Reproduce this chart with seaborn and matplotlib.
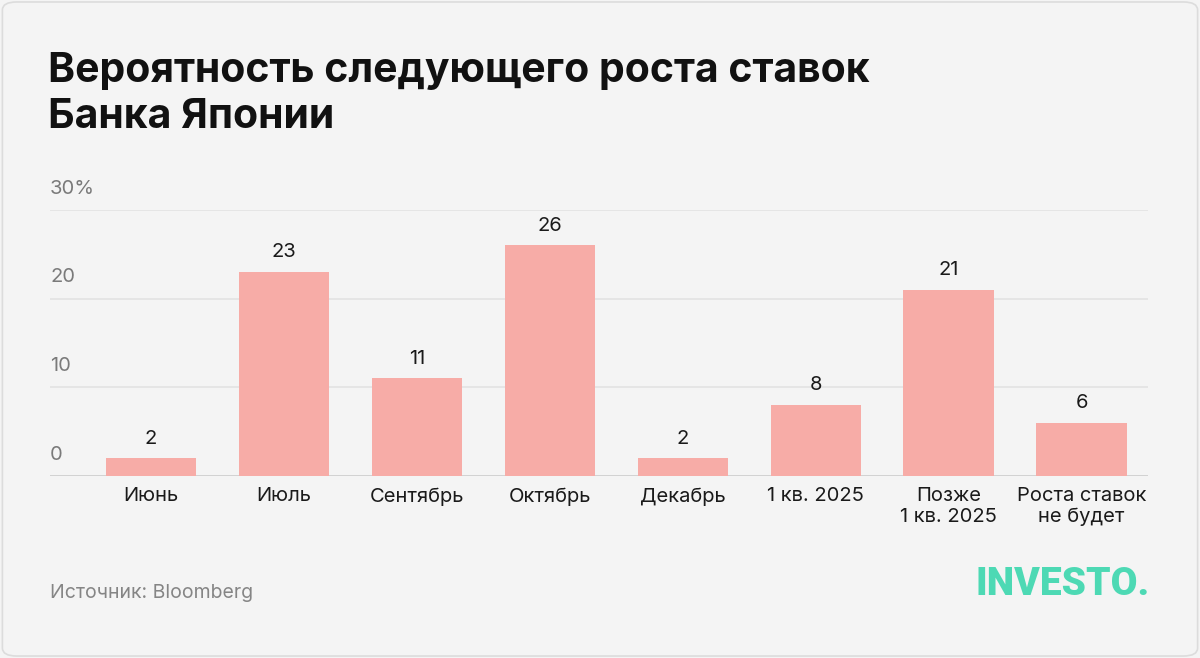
import matplotlib
matplotlib.use("Agg")
import matplotlib.pyplot as plt
import seaborn as sns
import pandas as pd
from matplotlib.patches import FancyBboxPatch

# Данные
months = ["Июнь", "Июль", "Сентябрь", "Октябрь", "Декабрь", "1 кв. 2025",
          "Позже\n1 кв. 2025", "Роста ставок\nне будет"]
probability = [2, 23, 11, 26, 2, 8, 21, 6]
y_ticks = [0, 10, 20, 30]
y_tick_labels = ["0", "10", "20", "30%"]

df = pd.DataFrame({"month": months, "prob": probability})

sns.set_theme(style="white")
plt.rcParams["font.family"] = ["Inter", "DejaVu Sans"]

bg = "#f4f4f4"
fig = plt.figure(figsize=(12, 6.58), dpi=100)
fig.patch.set_facecolor(bg)

# рамка с закруглёнными углами
fig.patches.append(FancyBboxPatch((0.002, 0.003), 0.996, 0.994,
                                  boxstyle="round,pad=0,rounding_size=0.012",
                                  transform=fig.transFigure, facecolor=bg,
                                  edgecolor="#dcdcdc", linewidth=1.2, zorder=-10))

ax = fig.add_axes([0.0417, 0.2766, 0.9150, 0.4043])
ax.set_facecolor("none")

sns.barplot(data=df, x="month", y="prob", color="#f7aca7", saturation=1,
            width=0.68, linewidth=0, ax=ax, zorder=3)

ax.set_xlim(-0.76, 7.5)
ax.set_ylim(0, 30)

# сетка и подписи оси y над линиями
for t, lab in zip(y_ticks, y_tick_labels):
    ax.axhline(t, color="#cfcfcf" if t == 0 else "#e4e4e4", lw=1.3, zorder=1)
    ax.text(0, t + 1.4, lab, transform=ax.get_yaxis_transform(),
            ha="left", va="bottom", fontsize=14.5, color="#7a7a7a")

# подписи значений
for i, v in enumerate(probability):
    ax.text(i, v + 1.2, str(v), ha="center", va="bottom", fontsize=14.5, color="#1a1a1a")

ax.set_yticks([])
ax.tick_params(axis="x", length=0, pad=8, labelsize=14.5, labelcolor="#1a1a1a")
ax.set_xlabel("")
ax.set_ylabel("")
for s in ax.spines.values():
    s.set_visible(False)

fig.text(0.040, 0.857, "Вероятность следующего роста ставок\nБанка Японии",
         fontsize=29.5, fontweight="bold", color="#111111", ha="left", va="center",
         linespacing=1.27)

fig.text(0.0417, 0.099, "Источник: Bloomberg", fontsize=14, color="#858585",
         ha="left", va="center")

fig.text(0.958, 0.111, "INVESTO.", fontsize=28, fontweight="black", color="#4dd9b4",
         ha="right", va="center", fontstretch="condensed",
         family=["Roboto", "DejaVu Sans"])

fig.savefig("out.png", dpi=100, facecolor=bg)
